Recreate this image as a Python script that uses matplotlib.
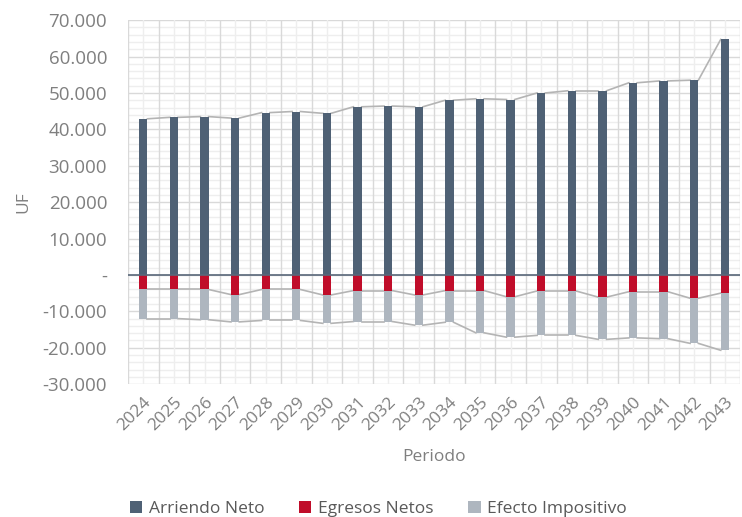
import numpy as np
import matplotlib.pyplot as plt
from matplotlib.ticker import FuncFormatter, MultipleLocator

plt.rcParams['font.family'] = ['Open Sans', 'DejaVu Sans']

# Data (UF)
years = [str(y) for y in range(2024, 2044)]
arriendo_neto = [42900, 43300, 43500, 43100, 44600, 44900, 44400, 46200, 46400, 46200,
                 48000, 48400, 48200, 50000, 50600, 50600, 52800, 53300, 53500, 64700]
egresos_netos = [-4000, -4000, -4000, -5400, -4000, -4000, -5500, -4300, -4300, -5500,
                 -4300, -4300, -6000, -4400, -4400, -6100, -4600, -4600, -6400, -5000]
efecto_impositivo = [-8000, -8000, -8300, -7500, -8500, -8500, -7800, -8500, -8500, -8300,
                     -8700, -11600, -11100, -12200, -12200, -11600, -12700, -12900, -12400, -15700]

c_arr = '#4f6175'
c_egr = '#c00d2a'
c_efe = '#aeb6bf'
c_txt = '#7f7f7f'

x = np.arange(len(years))
w = 0.27
arr = np.array(arriendo_neto)
egr = np.array(egresos_netos)
efe = np.array(efecto_impositivo)

fig = plt.figure(figsize=(7.42, 5.17), dpi=100)
ax = fig.add_axes([0.1725, 0.257, 0.825, 0.704])

# grid: horizontal major/minor, vertical at boundaries and centers
ax.set_ylim(-30000, 70000)
ax.set_xlim(-0.5, len(years) - 0.5)
for v in np.arange(-30000, 70001, 2000):
    major = (v % 10000 == 0)
    ax.axhline(v, color='#d9d9d9' if major else '#eeeeee', lw=1.0, zorder=0)
for b in np.arange(-0.5, len(years), 1.0):
    ax.axvline(b, color='#d9d9d9', lw=1.0, zorder=0)
for cx in x:
    ax.axvline(cx, color='#eeeeee', lw=1.0, zorder=0)

ax.bar(x, arr, w, color=c_arr, label='Arriendo Neto', zorder=3)
ax.bar(x, egr, w, color=c_egr, label='Egresos Netos', zorder=3)
ax.bar(x, efe, w, bottom=egr, color=c_efe, label='Efecto Impositivo', zorder=3)

# series lines (Excel style)
for tops in (arr, egr, egr + efe):
    for i in range(len(x) - 1):
        ax.plot([x[i] + w / 2, x[i + 1] - w / 2], [tops[i], tops[i + 1]],
                color='#b4b4b4', lw=1.2, zorder=2)

ax.axhline(0, color='#59687a', lw=1.2, zorder=4)

for s in ax.spines.values():
    s.set_visible(False)

ax.yaxis.set_major_locator(MultipleLocator(10000))
ax.yaxis.set_major_formatter(FuncFormatter(
    lambda v, p: '-' if v == 0 else f'{v:,.0f}'.replace(',', '.')))
ax.set_xticks(x)
ax.set_xticklabels(years, rotation=45, ha='right', rotation_mode='anchor')
ax.tick_params(axis='both', length=0, colors=c_txt)
ax.tick_params(axis='y', labelsize=13.5, pad=15)
ax.tick_params(axis='x', labelsize=12.5, pad=7)

ax.set_ylabel('UF', color=c_txt, fontsize=12.5, labelpad=8)
ax.set_xlabel('Periodo', color=c_txt, fontsize=12.5, labelpad=11)

leg = fig.legend(loc='lower center', bbox_to_anchor=(0.51, -0.03), ncol=3, frameon=False,
                 fontsize=12.5, handlelength=0.7, handleheight=0.7, columnspacing=2.0,
                 handletextpad=0.4)
for t in leg.get_texts():
    t.set_color('#595959')

fig.savefig('out.png', dpi=100)
